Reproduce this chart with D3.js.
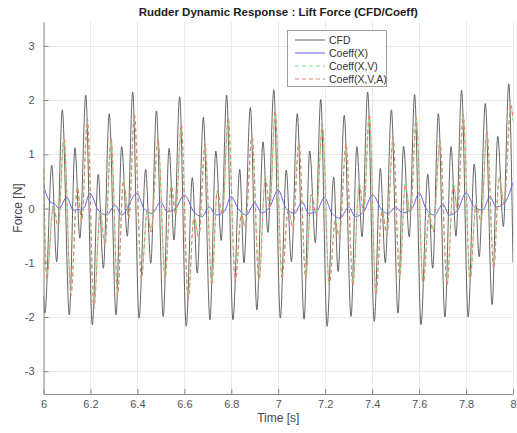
<!DOCTYPE html>
<html><head><meta charset="utf-8">
<script src="https://cdn.jsdelivr.net/npm/d3@7"></script>
<style>
html,body{margin:0;padding:0;background:#fff;}
svg{display:block;font-family:"Liberation Sans",Arial,sans-serif;}
</style></head>
<body><svg id="c" width="517" height="433"></svg>
<script>
const title = "Rudder Dynamic Response : Lift Force (CFD/Coeff)";
const xLabel = "Time [s]";
const yLabel = "Force [N]";
const xTicks = [6, 6.2, 6.4, 6.6, 6.8, 7, 7.2, 7.4, 7.6, 7.8, 8];
const yTicks = [-3, -2, -1, 0, 1, 2, 3];
const seriesNames = ["CFD", "Coeff(X)", "Coeff(X,V)", "Coeff(X,V,A)"];

// extrema: [time s, force N]
const cfd = [
[6.000,-1.60],[6.006,-1.93],[6.035,0.80],[6.056,-0.98],[6.080,1.82],[6.110,-1.96],[6.134,1.12],[6.155,-0.55],
[6.180,2.09],[6.208,-2.14],[6.233,0.63],[6.255,-1.10],[6.280,1.75],[6.309,-1.96],[6.333,1.14],[6.357,-0.51],
[6.380,2.15],[6.407,-2.02],[6.435,0.72],[6.457,-1.01],[6.481,1.80],[6.510,-1.99],[6.535,1.11],[6.556,-0.58],
[6.580,2.06],[6.608,-2.17],[6.634,0.57],[6.655,-1.19],[6.681,1.68],[6.709,-2.05],[6.734,1.06],[6.757,-0.59],
[6.780,2.09],[6.807,-2.05],[6.836,0.72],[6.854,-1.00],[6.881,1.86],[6.909,-1.87],[6.935,1.23],[6.956,-0.44],
[6.981,2.19],[7.009,-2.02],[7.034,0.71],[7.056,-0.98],[7.081,1.75],[7.110,-2.04],[7.134,1.06],[7.158,-0.63],
[7.181,2.01],[7.208,-2.17],[7.236,0.58],[7.255,-1.16],[7.281,1.72],[7.310,-1.99],[7.335,1.14],[7.357,-0.52],
[7.381,2.15],[7.409,-2.08],[7.435,0.74],[7.456,-1.00],[7.482,1.82],[7.510,-1.93],[7.534,1.15],[7.558,-0.52],
[7.581,2.10],[7.608,-2.14],[7.637,0.63],[7.658,-1.10],[7.682,1.75],[7.710,-2.00],[7.736,1.14],[7.757,-0.51],
[7.781,2.18],[7.809,-2.00],[7.835,0.82],[7.856,-0.89],[7.882,1.94],[7.911,-1.77],[7.935,1.33],[7.959,-0.33],
[7.982,2.30],[8.000,-1.00]
];
const coeffX = [
[6.000,0.42],[6.028,0.125],[6.049,0.08],[6.067,0.00],[6.099,0.21],[6.127,-0.03],[6.170,0.00],[6.198,0.28],
[6.233,-0.03],[6.269,-0.12],[6.305,0.06],[6.333,-0.12],[6.398,0.28],[6.428,0.00],[6.463,-0.09],[6.499,0.125],
[6.527,-0.06],[6.563,0.00],[6.599,0.25],[6.641,-0.06],[6.676,-0.15],[6.705,0.03],[6.734,-0.12],[6.769,-0.06],
[6.799,0.22],[6.829,0.00],[6.864,-0.12],[6.900,0.11],[6.928,-0.08],[6.964,0.03],[6.999,0.34],[7.034,0.00],
[7.070,-0.09],[7.101,0.125],[7.130,-0.09],[7.162,-0.06],[7.197,0.20],[7.229,-0.09],[7.264,-0.18],[7.300,0.03],
[7.328,-0.15],[7.364,-0.06],[7.402,0.25],[7.442,-0.03],[7.470,-0.09],[7.499,0.03],[7.530,-0.08],[7.570,0.00],
[7.600,0.29],[7.629,0.00],[7.665,-0.12],[7.701,0.08],[7.729,-0.12],[7.764,-0.03],[7.800,0.29],[7.835,0.03],
[7.871,-0.03],[7.902,0.22],[7.928,0.03],[7.963,0.10],[8.000,0.48]
];
const coeffXV = [
[6.000,0.75],[6.014,-1.25],[6.042,0.06],[6.063,-0.33],[6.087,1.29],[6.117,-1.56],[6.144,0.40],[6.163,-0.21],
[6.187,1.60],[6.215,-1.80],[6.241,-0.06],[6.262,-0.64],[6.288,1.26],[6.316,-1.56],[6.340,0.52],[6.364,-0.15],
[6.387,1.69],[6.417,-1.25],[6.442,-0.03],[6.458,-0.40],[6.488,1.23],[6.518,-1.25],[6.544,0.43],[6.563,-0.09],
[6.587,1.50],[6.616,-1.65],[6.641,-0.15],[6.662,-0.52],[6.688,1.14],[6.717,-1.38],[6.740,0.34],[6.762,-0.09],
[6.787,1.63],[6.817,-1.31],[6.843,-0.09],[6.860,-0.33],[6.888,1.32],[6.918,-1.31],[6.945,0.58],[6.964,0.03],
[6.987,1.75],[7.016,-1.25],[7.042,-0.03],[7.063,-0.33],[7.088,1.20],[7.117,-1.25],[7.141,0.28],[7.162,-0.09],
[7.188,1.50],[7.217,-1.38],[7.243,-0.21],[7.260,-0.52],[7.289,1.14],[7.318,-1.38],[7.345,0.46],[7.364,-0.06],
[7.388,1.69],[7.416,-1.56],[7.442,-0.03],[7.463,-0.46],[7.489,1.26],[7.517,-1.25],[7.541,0.46],[7.563,-0.09],
[7.588,1.63],[7.617,-1.38],[7.643,-0.09],[7.660,-0.40],[7.689,1.20],[7.719,-1.38],[7.746,0.46],[7.764,-0.03],
[7.788,1.69],[7.817,-1.31],[7.842,0.10],[7.864,-0.21],[7.889,1.38],[7.918,-1.07],[7.941,0.58],[7.962,0.10],
[7.991,1.87],[8.000,1.60]
];
const coeffXVA = [
[6.000,0.78],[6.014,-1.30],[6.042,0.04],[6.063,-0.36],[6.087,1.34],[6.117,-1.60],[6.144,0.38],[6.163,-0.24],
[6.187,1.65],[6.215,-1.84],[6.241,-0.08],[6.262,-0.67],[6.288,1.30],[6.316,-1.60],[6.340,0.50],[6.364,-0.18],
[6.387,1.74],[6.417,-1.30],[6.442,-0.05],[6.458,-0.43],[6.488,1.28],[6.518,-1.29],[6.544,0.41],[6.563,-0.12],
[6.587,1.55],[6.616,-1.69],[6.641,-0.17],[6.662,-0.55],[6.688,1.19],[6.717,-1.42],[6.740,0.32],[6.762,-0.12],
[6.787,1.68],[6.817,-1.35],[6.843,-0.11],[6.860,-0.36],[6.888,1.37],[6.918,-1.35],[6.945,0.56],[6.964,0.00],
[6.987,1.80],[7.016,-1.29],[7.042,-0.05],[7.063,-0.36],[7.088,1.25],[7.117,-1.29],[7.141,0.26],[7.162,-0.12],
[7.188,1.55],[7.217,-1.42],[7.243,-0.23],[7.260,-0.55],[7.289,1.19],[7.318,-1.42],[7.345,0.44],[7.364,-0.09],
[7.388,1.74],[7.416,-1.60],[7.442,-0.05],[7.463,-0.49],[7.489,1.31],[7.517,-1.29],[7.541,0.44],[7.563,-0.12],
[7.588,1.68],[7.617,-1.42],[7.643,-0.11],[7.660,-0.43],[7.689,1.25],[7.719,-1.42],[7.746,0.44],[7.764,-0.06],
[7.788,1.74],[7.817,-1.35],[7.842,0.08],[7.864,-0.24],[7.889,1.43],[7.918,-1.11],[7.941,0.56],[7.962,0.07],
[7.991,1.92],[8.000,1.65]
];

const svg = d3.select("#c");
const L = 43.5, R = 513, T = 22, B = 394;
const x = d3.scaleLinear().domain([6, 8]).range([L, R]);
const y = d3.scaleLinear().domain([-3.42, 3.44]).range([B, T]);

// grid
const g = svg.append("g");
g.selectAll(".gx").data(xTicks).enter().append("line")
  .attr("x1", d => Math.round(x(d)) + 0.5).attr("x2", d => Math.round(x(d)) + 0.5)
  .attr("y1", T).attr("y2", B).attr("stroke", "#e8e8e8").attr("stroke-width", 1);
g.selectAll(".gy").data(yTicks).enter().append("line")
  .attr("x1", L).attr("x2", R)
  .attr("y1", d => Math.round(y(d)) + 0.5).attr("y2", d => Math.round(y(d)) + 0.5)
  .attr("stroke", "#e8e8e8").attr("stroke-width", 1);

// lines
const clip = svg.append("clipPath").attr("id", "clp").append("rect")
  .attr("x", L).attr("y", T).attr("width", R - L).attr("height", B - T);
const line = d3.line().x(d => x(d[0])).y(d => y(d[1])).curve(d3.curveMonotoneX);
const plot = svg.append("g").attr("clip-path", "url(#clp)");
const styles = [
  {data: cfd, color: "#4a4a4a", w: 0.85, dash: null},
  {data: coeffX, color: "#6262ee", w: 1.0, dash: null},
  {data: coeffXV, color: "#78e878", w: 1.1, dash: "4,3"},
  {data: coeffXVA, color: "#ec8074", w: 1.1, dash: "4,3"}
];
styles.forEach((s, i) => {
  plot.append("path").datum(s.data).attr("d", line)
    .attr("fill", "none").attr("stroke", s.color).attr("stroke-width", s.w)
    .attr("stroke-dasharray", s.dash).attr("stroke-dashoffset", i === 3 ? 3.5 : 0)
    .attr("stroke-linejoin", "round");
});

// axes
const xAxis = d3.axisBottom(x).tickValues(xTicks).tickSizeInner(-5).tickSizeOuter(0)
  .tickFormat(d => String(+d.toFixed(1)));
const yAxis = d3.axisLeft(y).tickValues(yTicks).tickSizeInner(-5).tickSizeOuter(0)
  .tickFormat(d => String(d));
const ax = svg.append("g").attr("transform", `translate(0,${B})`).call(xAxis);
const ay = svg.append("g").attr("transform", `translate(${L},0)`).call(yAxis);
[ax, ay].forEach(a => {
  a.select(".domain").attr("stroke", "#8a8a8a");
  a.selectAll(".tick line").attr("stroke", "#8a8a8a");
  a.selectAll(".tick text").attr("fill", "#555").style("font-size", "11px")
    .style("font-family", '"Liberation Sans",Arial,sans-serif');
});
ax.selectAll(".tick text").attr("dy", "0.71em").attr("y", 6);
ay.selectAll(".tick text").attr("x", -9);

// title and labels
svg.append("text").attr("x", (L + R) / 2).attr("y", 16).attr("text-anchor", "middle")
  .style("font-size", "11.5px").style("font-weight", "bold").attr("fill", "#222").text(title);
svg.append("text").attr("x", (L + R) / 2).attr("y", 422).attr("text-anchor", "middle")
  .style("font-size", "12px").attr("fill", "#444").text(xLabel);
svg.append("text").attr("transform", `translate(22,${(T + B) / 2}) rotate(-90)`)
  .attr("text-anchor", "middle").style("font-size", "12px").attr("fill", "#444").text(yLabel);

// legend
const lg = svg.append("g");
lg.append("rect").attr("x", 287.5).attr("y", 30.5).attr("width", 99).attr("height", 56)
  .attr("fill", "#fff").attr("stroke", "#a0a0a0").attr("stroke-width", 1);
seriesNames.forEach((n, i) => {
  const yy = 40 + i * 13;
  lg.append("line").attr("x1", 295).attr("x2", 325).attr("y1", yy).attr("y2", yy)
    .attr("stroke", styles[i].color).attr("stroke-width", styles[i].w)
    .attr("stroke-dasharray", styles[i].dash);
  lg.append("text").attr("x", 329).attr("y", yy + 3.8).style("font-size", "10.5px")
    .attr("fill", "#333").text(n);
});
</script></body></html>
